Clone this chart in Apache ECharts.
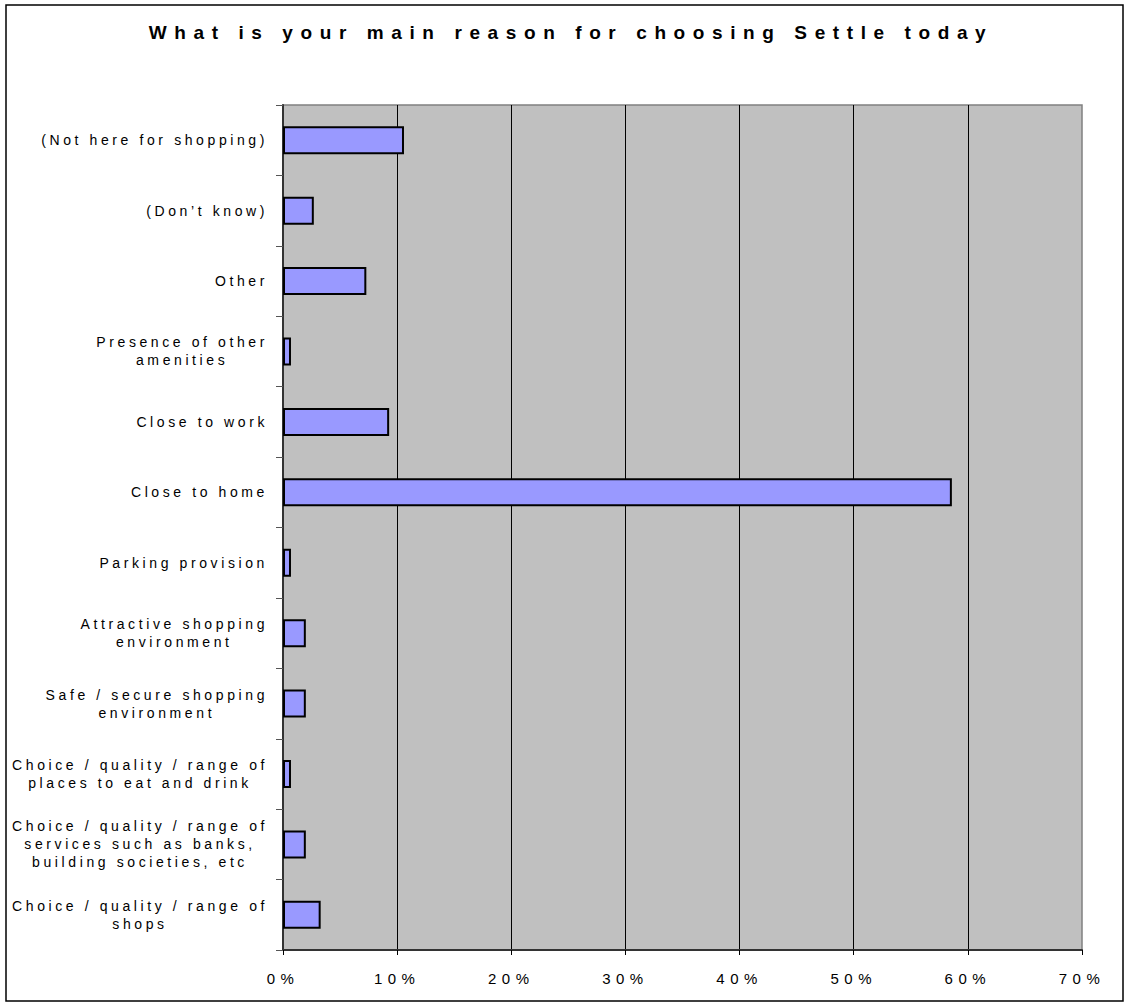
<!DOCTYPE html>
<html>
<head>
<meta charset="utf-8">
<script src="https://cdn.jsdelivr.net/npm/echarts@6/dist/echarts.min.js"></script>
<style>
  html, body { margin: 0; padding: 0; background: #fff; }
  #chart { width: 1125px; height: 1002px; }
  #chart text[style*="19px"] { letter-spacing: 7.6px; }
  #chart text[style*="14px"] { letter-spacing: 3.6px; }
  #chart text[style*="15px"] { letter-spacing: 5.5px; }
</style>
</head>
<body>
<div id="chart"></div>
<script>
const titleText = 'What is your main reason for choosing Settle today';
const categories = [
  'Choice / quality / range of\nshops',
  'Choice / quality / range of\nservices such as banks,\nbuilding societies, etc',
  'Choice / quality / range of\nplaces to eat and drink',
  'Safe / secure shopping\nenvironment',
  'Attractive shopping\nenvironment',
  'Parking provision',
  'Close to home',
  'Close to work',
  'Presence of other\namenities',
  'Other',
  '(Don\u2019t know)',
  '(Not here for shopping)'
];
const values = [3.3, 2.0, 0.7, 2.0, 2.0, 0.7, 58.6, 9.3, 0.7, 7.3, 2.7, 10.6];
const xTicks = [0, 10, 20, 30, 40, 50, 60, 70];

const spacingFor = function (font) {
  const m = /(\d+(?:\.\d+)?)px/.exec(font || '');
  const s = m ? parseFloat(m[1]) : 12;
  if (s === 19) return 7.6;
  if (s === 14) return 3.6;
  if (s === 15) return 5.5;
  return 0;
};
const mctx = document.createElement('canvas').getContext('2d');
if (echarts.setPlatformAPI) {
  echarts.setPlatformAPI({
    measureText: function (text, font) {
      mctx.font = font || '12px sans-serif';
      const t = String(text == null ? '' : text);
      return { width: mctx.measureText(t).width + t.length * spacingFor(font) };
    }
  });
}

const FF = '"Liberation Sans", Arial, sans-serif';
const chart = echarts.init(document.getElementById('chart'), null, { renderer: 'svg' });
chart.setOption({
  animation: false,
  title: {
    text: titleText,
    left: 566,
    textAlign: 'center',
    top: 14,
    textStyle: { fontFamily: FF, fontSize: 19, fontWeight: 'bold', color: '#000' }
  },
  graphic: [{
    type: 'rect',
    shape: { x: 6, y: 5, width: 1117, height: 996 },
    style: { fill: 'none', stroke: '#000', lineWidth: 1.5 },
    silent: true,
    z: -10
  }],
  grid: {
    left: 283, right: 43, top: 105, bottom: 52,
    show: true,
    backgroundColor: '#C0C0C0',
    borderColor: '#808080',
    borderWidth: 1.5
  },
  xAxis: {
    type: 'value',
    min: xTicks[0],
    max: xTicks[xTicks.length - 1],
    interval: 10,
    axisLine: { show: true, onZero: false, lineStyle: { color: '#333', width: 2 } },
    axisTick: { show: true, length: 5, lineStyle: { color: '#000', width: 1 } },
    axisLabel: {
      margin: 18,
      fontFamily: FF, fontSize: 15, color: '#000',
      formatter: function (v) { return v + '%'; }
    },
    splitLine: { show: true, showMinLine: false, showMaxLine: false, lineStyle: { color: '#000', width: 1 } }
  },
  yAxis: {
    type: 'category',
    data: categories,
    axisLine: { show: true, lineStyle: { color: '#333', width: 2 } },
    axisTick: { show: true, length: 7, lineStyle: { color: '#555', width: 1 } },
    axisLabel: {
      interval: 0,
      margin: 15,
      fontFamily: FF, fontSize: 14, color: '#000',
      formatter: function (v) {
        return v.split('\n').map(function (l) { return '{c|' + l + '}'; }).join('\n');
      },
      rich: {
        c: { align: 'center', fontFamily: FF, fontSize: 14, lineHeight: 18, color: '#000' }
      }
    },
    splitLine: { show: false }
  },
  series: [{
    type: 'bar',
    data: values,
    barWidth: 28,
    itemStyle: { color: '#9999FF', borderColor: '#000', borderWidth: 2 },
    z: 3
  }]
});
</script>
</body>
</html>
